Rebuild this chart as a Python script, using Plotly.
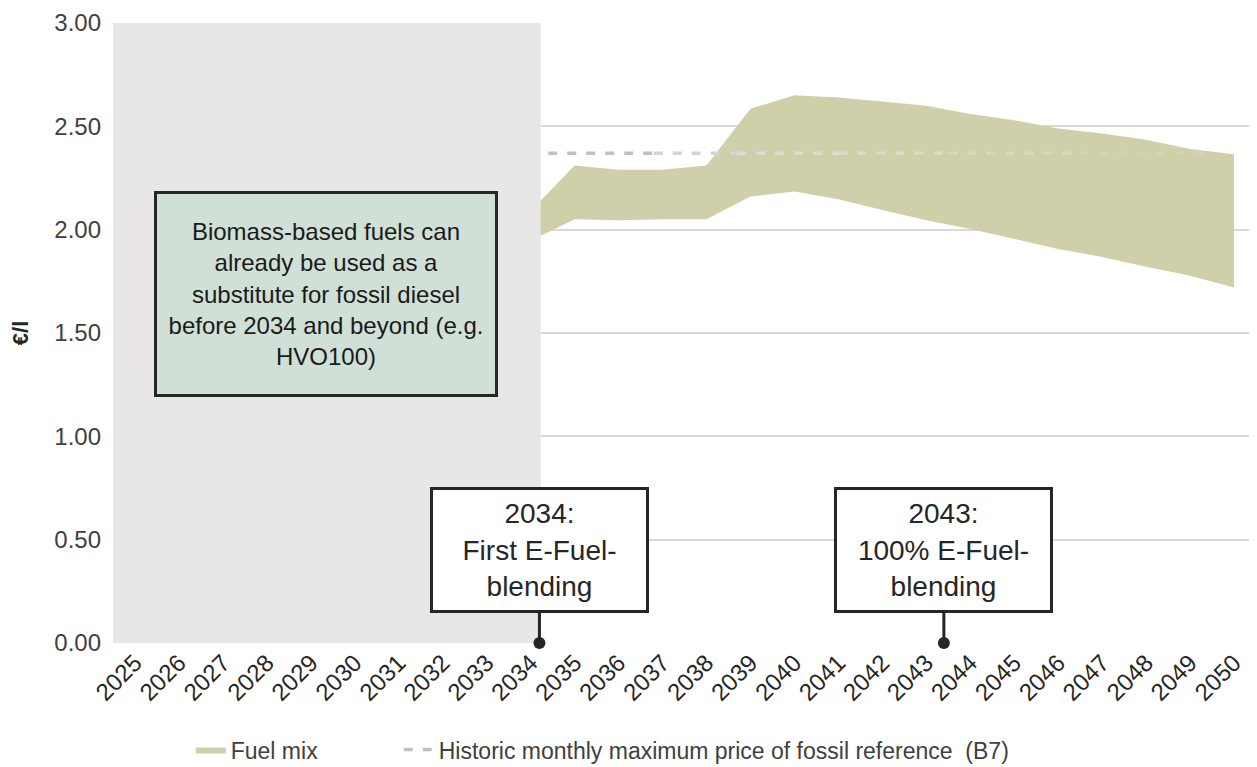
import plotly.graph_objects as go

# x axis categories
years = list(range(2025, 2051))
year_labels = [str(y) for y in years]

# fuel mix price band (€/l)
band_years = [2034, 2035, 2036, 2037, 2038, 2039, 2040, 2041, 2042,
              2043, 2044, 2045, 2046, 2047, 2048, 2049, 2050]
band_high = [2.09, 2.31, 2.29, 2.29, 2.31, 2.585, 2.65, 2.64, 2.62,
             2.60, 2.56, 2.53, 2.49, 2.465, 2.435, 2.39, 2.365]
band_low = [1.946, 2.05, 2.045, 2.05, 2.05, 2.16, 2.185, 2.147, 2.095,
            2.046, 2.003, 1.955, 1.907, 1.868, 1.82, 1.777, 1.72]

# historic monthly maximum price of fossil reference (B7)
ref_x = [2034.4, 2036.8, 2038.7, 2041.0, 2043.5, 2046.5, 2049.3]
ref_y = [2.37, 2.37, 2.37, 2.37, 2.37, 2.37, 2.37]
ref_colors = ["#c0c0c0", "#d4d4d4", "#dcdcd2", "#dadaca", "#d7d7c2", "#d3d3ba"]

# shaded period before e-fuel blending
shade_end = 2034.23

# milestones
milestone_x = [2034.2, 2043.4]
milestone_text = ["2034:<br>First E-Fuel-<br>blending", "2043:<br>100% E-Fuel-<br>blending"]

note_text = ("Biomass-based fuels can<br>already be used as a<br>substitute for fossil diesel"
             "<br>before 2034 and beyond (e.g.<br>HVO100)")
note_x, note_y = 2029.35, 1.69

BAND = "#cfd0aa"
DARK = "#262626"
FONT = "Liberation Sans, Arial, sans-serif"

fig = go.Figure()

fig.add_trace(go.Scatter(x=band_years, y=band_low, mode="lines", line=dict(width=0),
                         showlegend=False, hoverinfo="skip"))
fig.add_trace(go.Scatter(x=band_years, y=band_high, mode="lines", line=dict(width=0),
                         fill="tonexty", fillcolor=BAND, name="Fuel mix", legend="legend"))

for i, col in enumerate(ref_colors):
    fig.add_trace(go.Scatter(
        x=ref_x[i:i + 2], y=ref_y[i:i + 2], mode="lines",
        line=dict(color=col, width=3.5, dash="9px,10px"),
        name="Historic monthly maximum price of fossil reference  (B7)",
        showlegend=(i == 0), legendgroup="ref", legend="legend2"))

fig.add_shape(type="rect", xref="x", yref="y", x0=2024.5, x1=shade_end, y0=0, y1=3,
              fillcolor="#e8e7e5", line=dict(width=0), layer="above")

fig.add_annotation(x=note_x, y=note_y, xref="x", yref="y", text=note_text, showarrow=False,
                   width=338, height=200, bgcolor="#d0e0d6", bordercolor=DARK,
                   borderwidth=3, borderpad=0, font=dict(size=24, color="#1a1a1a", family=FONT))

for mx, mt in zip(milestone_x, milestone_text):
    fig.add_annotation(x=mx, y=0, xref="x", yref="y", text=mt, showarrow=True,
                       ax=0, ay=-93, arrowhead=6, arrowsize=1, arrowwidth=3,
                       arrowcolor=DARK, width=213, height=120, bgcolor="white",
                       bordercolor=DARK, borderwidth=3, borderpad=0,
                       font=dict(size=28, color="#262626", family=FONT))

legend_style = dict(orientation="h", yanchor="middle", y=-0.172, xanchor="left",
                    font=dict(size=23, color="#404040"), bgcolor="rgba(0,0,0,0)")

# the page body adds an 8px margin, so the figure is 8px smaller than the window
fig.update_layout(
    width=1249, height=759,
    margin=dict(l=105, r=1, t=15, b=124, autoexpand=False),
    paper_bgcolor="white", plot_bgcolor="white",
    font=dict(family=FONT, color="#404040", size=22),
    xaxis=dict(range=[2024.5, 2050.5], tickvals=years, ticktext=year_labels,
               tickangle=-45, showgrid=False, zeroline=False, showline=False,
               ticks="", automargin=False, tickfont=dict(size=24, color="#262626")),
    yaxis=dict(range=[0, 3], dtick=0.5, tickformat=".2f", showgrid=True,
               gridcolor="#d9d9d9", gridwidth=1.5, zeroline=False, showline=False,
               ticks="", automargin=False, ticklabelstandoff=11,
               ticklabeloverflow="allow",
               tickfont=dict(size=24, color="#404040"),
               title=dict(text="€/l", font=dict(size=22, color="#262626", weight="bold"),
                          standoff=30)),
    legend=dict(x=0.068, **legend_style),
    legend2=dict(x=0.25, **legend_style),
    showlegend=True,
)

fig.write_html("out.html")
